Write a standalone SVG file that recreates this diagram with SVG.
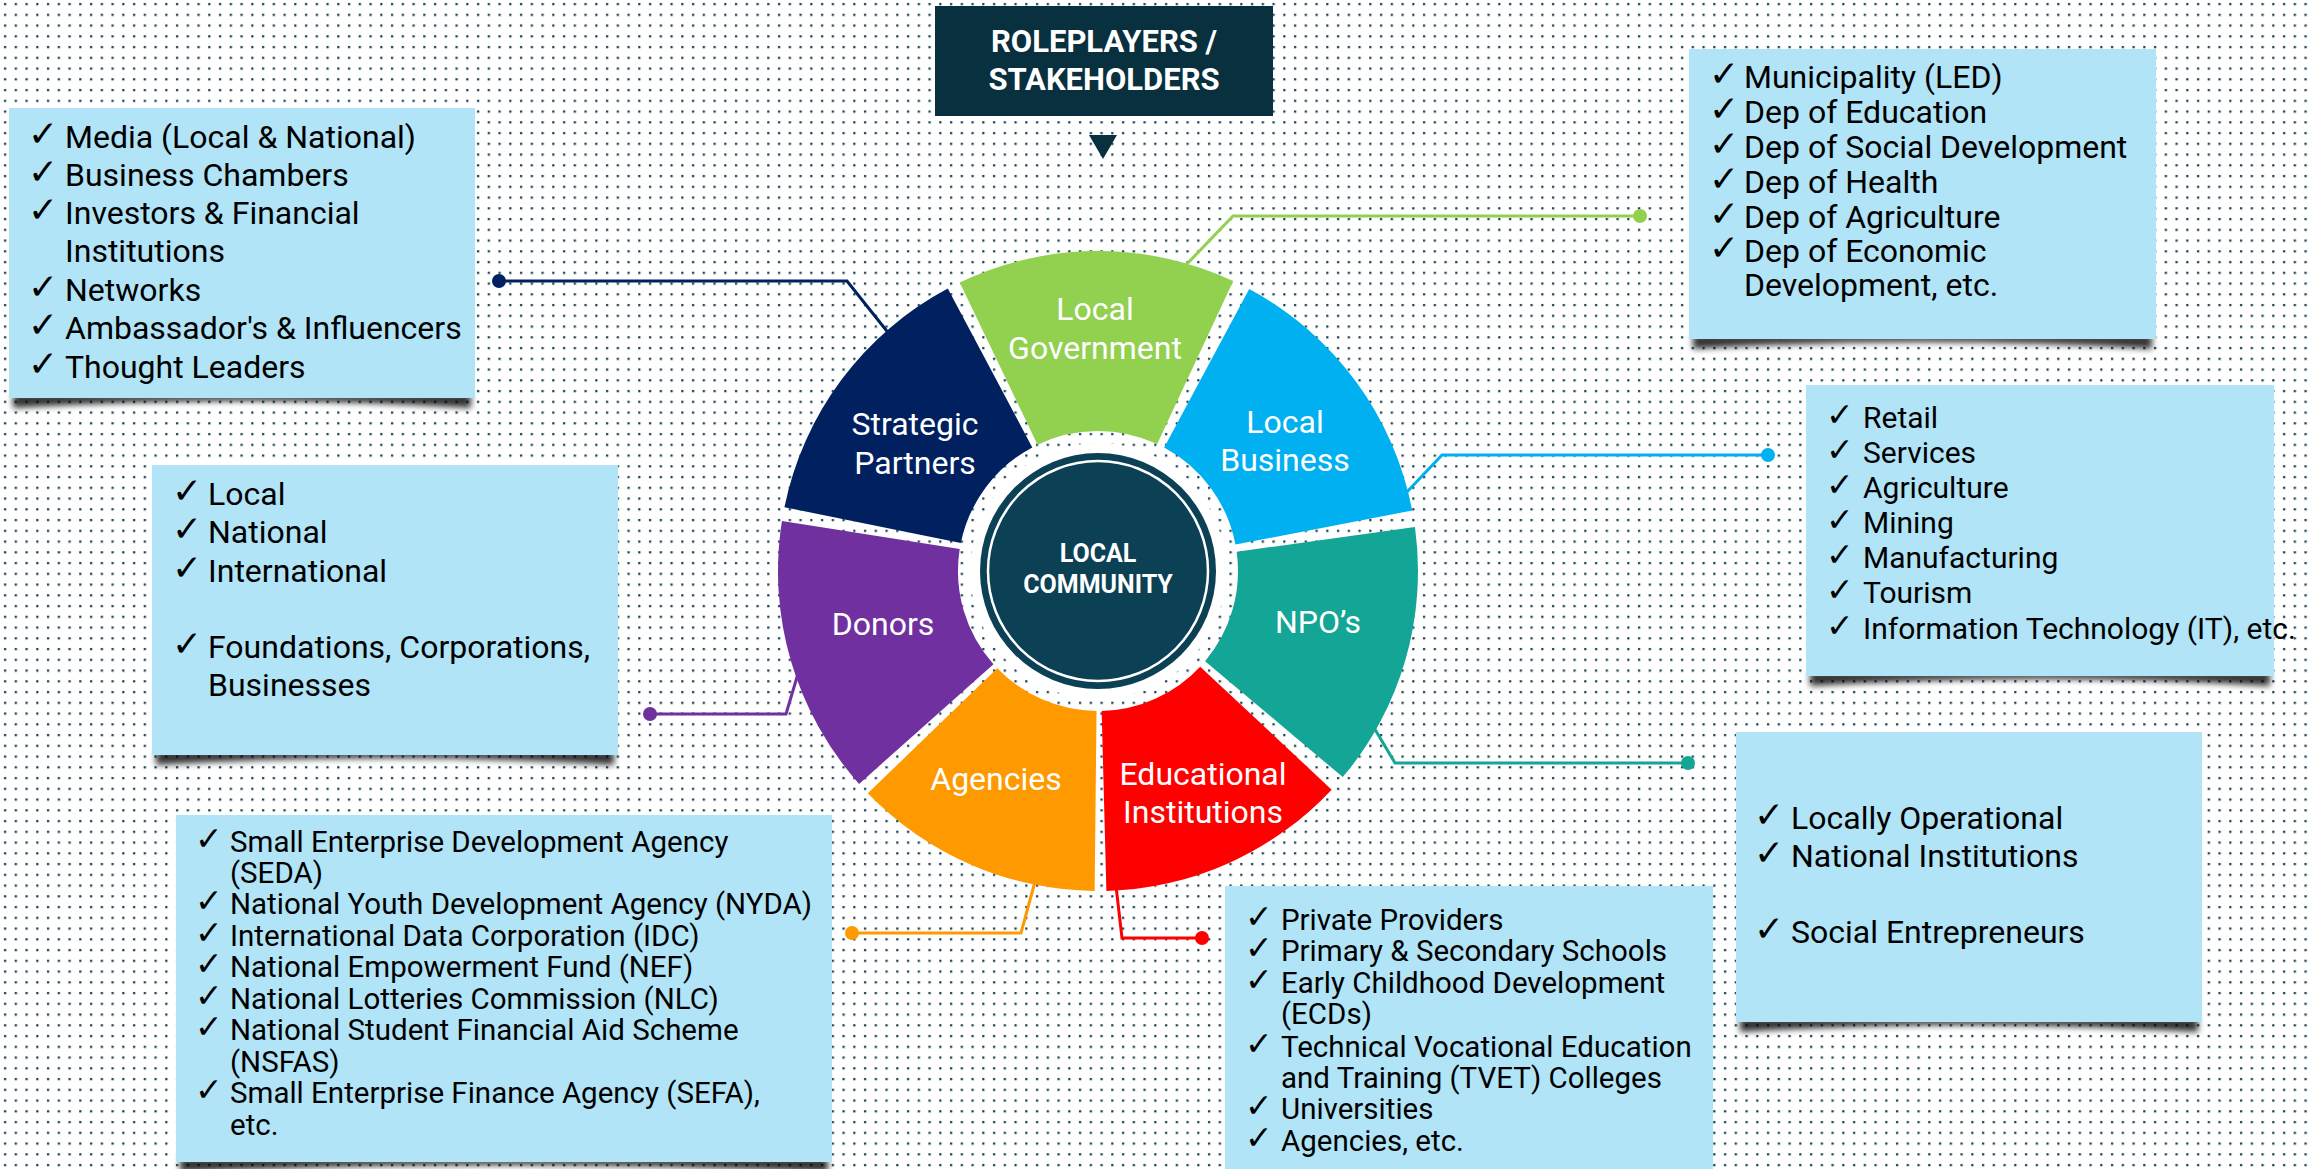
<svg xmlns="http://www.w3.org/2000/svg" width="2310" height="1169" viewBox="0 0 2310 1169">
<defs>
  <pattern id="dots" width="10.75" height="10.75" patternUnits="userSpaceOnUse">
    <rect x="4" y="3" width="2.2" height="2.2" fill="#0c3a4b"/>
  </pattern>
  <filter id="sh" x="-5%" y="-200%" width="110%" height="500%">
    <feGaussianBlur stdDeviation="3"/>
  </filter>
  <style>
    .chk{font-family:"DejaVu Sans",sans-serif;font-weight:bold;fill:#000}
    .t{font-family:Roboto,"Liberation Sans",sans-serif;fill:#000}
    .f32{font-size:32px}
    .f30{font-size:30px}
    .f29{font-size:29.5px}
    .box{fill:#B1E4F7}
    .shadow{fill:#000;opacity:.8;filter:url(#sh)}
    .lbl{font-family:Roboto,"Liberation Sans",sans-serif;font-size:32px;fill:#fff;text-anchor:middle}
    .conn{fill:none;stroke-width:3}
  </style>
</defs>

<rect width="2310" height="1169" fill="#fff"/>
<rect width="2310" height="1169" fill="url(#dots)"/>

<g id="connectors">
  <polyline class="conn" stroke="#002060" points="499,281 847,281 890,335"/>
  <circle cx="499" cy="281" r="7" fill="#002060"/>
  <polyline class="conn" stroke="#92D050" points="1185,266 1233,216 1640,216"/>
  <circle cx="1640" cy="216" r="7" fill="#92D050"/>
  <polyline class="conn" stroke="#00B0F0" points="1405,494 1442,455 1768,455"/>
  <circle cx="1768" cy="455" r="7" fill="#00B0F0"/>
  <polyline class="conn" stroke="#13A595" points="1373,726 1395,763 1688,763"/>
  <circle cx="1688" cy="763" r="7" fill="#13A595"/>
  <polyline class="conn" stroke="#FF0000" points="1116,886 1122,938 1202,938"/>
  <circle cx="1202" cy="938" r="7" fill="#FF0000"/>
  <polyline class="conn" stroke="#FF9900" points="1036,878 1021,933 852,933"/>
  <circle cx="852" cy="933" r="7" fill="#FF9900"/>
  <polyline class="conn" stroke="#7030A0" points="800,667 786,714 650,714"/>
  <circle cx="650" cy="714" r="7" fill="#7030A0"/>
</g>

<g id="title">
  <rect x="935" y="6" width="338" height="110" fill="#08303F"/>
  <text x="1104" y="52" text-anchor="middle" font-family="Roboto,'Liberation Sans',sans-serif" font-weight="bold" font-size="31" fill="#fff">ROLEPLAYERS /</text>
  <text x="1104" y="90" text-anchor="middle" font-family="Roboto,'Liberation Sans',sans-serif" font-weight="bold" font-size="31" fill="#fff">STAKEHOLDERS</text>
  <polygon points="1089,135 1117,135 1103,159" fill="#08303F"/>
</g>

<g id="seg-local-government">
  <path d="M959.73,282.41 A320,320 0 0 1 1233.24,280.98 L1157.17,444.12 A140,140 0 0 0 1037.51,444.74 Z" fill="#92D050"/>
  <text class="lbl" x="1095" y="320">Local</text>
  <text class="lbl" x="1095" y="359">Government</text>
</g>
<g id="seg-local-business">
  <path d="M1249.22,288.98 A320,320 0 0 1 1412.23,510.49 L1235.47,544.53 A140,140 0 0 0 1164.16,447.62 Z" fill="#00B0F0"/>
  <text class="lbl" x="1285" y="433">Local</text>
  <text class="lbl" x="1285" y="471">Business</text>
</g>
<g id="seg-npos">
  <path d="M1414.96,527.02 A320,320 0 0 1 1342.77,777.12 L1205.09,661.18 A140,140 0 0 0 1236.67,551.76 Z" fill="#13A595"/>
  <text class="lbl" x="1318" y="633">NPO’s</text>
</g>
<g id="seg-educational">
  <path d="M1331.65,789.65 A320,320 0 0 1 1106.38,890.89 L1101.66,710.95 A140,140 0 0 0 1200.22,666.66 Z" fill="#FF0000"/>
  <text class="lbl" x="1203" y="785">Educational</text>
  <text class="lbl" x="1203" y="823">Institutions</text>
</g>
<g id="seg-agencies">
  <path d="M1094.65,890.98 A320,320 0 0 1 867.81,793.29 L997.29,668.25 A140,140 0 0 0 1096.53,710.99 Z" fill="#FF9900"/>
  <text class="lbl" x="996" y="790">Agencies</text>
</g>
<g id="seg-donors">
  <path d="M859.08,783.88 A320,320 0 0 1 781.94,520.94 L959.72,549.10 A140,140 0 0 0 993.47,664.13 Z" fill="#7030A0"/>
  <text class="lbl" x="883" y="635">Donors</text>
</g>
<g id="seg-strategic-partners">
  <path d="M784.43,507.20 A320,320 0 0 1 947.77,288.46 L1032.27,447.39 A140,140 0 0 0 960.81,543.09 Z" fill="#002060"/>
  <text class="lbl" x="915" y="435">Strategic</text>
  <text class="lbl" x="915" y="474">Partners</text>
</g>

<g id="center">
  <circle cx="1098" cy="571" r="128" fill="#fff"/>
  <circle cx="1098" cy="571" r="118" fill="#0B4055"/>
  <circle cx="1098" cy="571" r="110" fill="none" stroke="#fff" stroke-width="2.5"/>
  <text x="1098" y="562" text-anchor="middle" font-family="Roboto,'Liberation Sans',sans-serif" font-weight="bold" font-size="25" fill="#fff">LOCAL</text>
  <text x="1098" y="593" text-anchor="middle" font-family="Roboto,'Liberation Sans',sans-serif" font-weight="bold" font-size="25" fill="#fff">COMMUNITY</text>
</g>

<g id="box-strategic-partners">
  <path class="shadow" d="M13,394 L471,394 L471,408 Q242,394 13,408 Z"/>
  <rect class="box" x="9" y="108" width="466" height="290"/>
  <g class="chk" font-size="36">
    <text x="28" y="146">✓</text><text x="28" y="184">✓</text><text x="28" y="222">✓</text>
    <text x="28" y="299">✓</text><text x="28" y="337">✓</text><text x="28" y="376">✓</text>
  </g>
  <g class="t f32">
    <text x="65" y="148">Media (Local &amp; National)</text>
    <text x="65" y="186">Business Chambers</text>
    <text x="65" y="224">Investors &amp; Financial</text>
    <text x="65" y="262">Institutions</text>
    <text x="65" y="301">Networks</text>
    <text x="65" y="339">Ambassador's &amp; Influencers</text>
    <text x="65" y="378">Thought Leaders</text>
  </g>
</g>

<g id="box-local-government">
  <path class="shadow" d="M1693,335 L2152,335 L2152,349 Q1922,335 1693,349 Z"/>
  <rect class="box" x="1689" y="49" width="467" height="290"/>
  <g class="chk" font-size="36">
    <text x="1709" y="86">✓</text><text x="1709" y="121">✓</text><text x="1709" y="156">✓</text>
    <text x="1709" y="191">✓</text><text x="1709" y="226">✓</text><text x="1709" y="260">✓</text>
  </g>
  <g class="t f32">
    <text x="1744" y="88">Municipality (LED)</text>
    <text x="1744" y="123">Dep of Education</text>
    <text x="1744" y="158">Dep of Social Development</text>
    <text x="1744" y="193">Dep of Health</text>
    <text x="1744" y="228">Dep of Agriculture</text>
    <text x="1744" y="262">Dep of Economic</text>
    <text x="1744" y="296">Development, etc.</text>
  </g>
</g>

<g id="box-local-business">
  <path class="shadow" d="M1810,672 L2270,672 L2270,686 Q2040,672 1810,686 Z"/>
  <rect class="box" x="1806" y="385" width="468" height="291"/>
  <g class="chk" font-size="33">
    <text x="1826" y="426">✓</text><text x="1826" y="461">✓</text><text x="1826" y="496">✓</text>
    <text x="1826" y="531">✓</text><text x="1826" y="566">✓</text><text x="1826" y="601">✓</text>
    <text x="1826" y="637">✓</text>
  </g>
  <g class="t f30">
    <text x="1863" y="428">Retail</text>
    <text x="1863" y="463">Services</text>
    <text x="1863" y="498">Agriculture</text>
    <text x="1863" y="533">Mining</text>
    <text x="1863" y="568">Manufacturing</text>
    <text x="1863" y="603">Tourism</text>
    <text x="1863" y="639">Information Technology (IT), etc.</text>
  </g>
</g>

<g id="box-donors">
  <path class="shadow" d="M156,751 L614,751 L614,765 Q385,751 156,765 Z"/>
  <rect class="box" x="152" y="465" width="466" height="290"/>
  <g class="chk" font-size="36">
    <text x="172" y="503">✓</text><text x="172" y="541">✓</text><text x="172" y="580">✓</text>
    <text x="172" y="656">✓</text>
  </g>
  <g class="t f32">
    <text x="208" y="505">Local</text>
    <text x="208" y="543">National</text>
    <text x="208" y="582">International</text>
    <text x="208" y="658">Foundations, Corporations,</text>
    <text x="208" y="696">Businesses</text>
  </g>
</g>

<g id="box-npos">
  <path class="shadow" d="M1740,1018 L2198,1018 L2198,1032 Q1969,1018 1740,1032 Z"/>
  <rect class="box" x="1736" y="732" width="466" height="290"/>
  <g class="chk" font-size="36">
    <text x="1754" y="827">✓</text><text x="1754" y="865">✓</text><text x="1754" y="941">✓</text>
  </g>
  <g class="t f32">
    <text x="1791" y="829">Locally Operational</text>
    <text x="1791" y="867">National Institutions</text>
    <text x="1791" y="943">Social Entrepreneurs</text>
  </g>
</g>

<g id="box-agencies">
  <path class="shadow" d="M180,1158 L828,1158 L828,1172 Q504,1158 180,1172 Z"/>
  <rect class="box" x="176" y="815" width="656" height="347"/>
  <g class="chk" font-size="33">
    <text x="195" y="850">✓</text><text x="195" y="912">✓</text><text x="195" y="944">✓</text>
    <text x="195" y="975">✓</text><text x="195" y="1007">✓</text><text x="195" y="1038">✓</text>
    <text x="195" y="1101">✓</text>
  </g>
  <g class="t f29">
    <text x="230" y="852">Small Enterprise Development Agency</text>
    <text x="230" y="883">(SEDA)</text>
    <text x="230" y="914">National Youth Development Agency (NYDA)</text>
    <text x="230" y="946">International Data Corporation (IDC)</text>
    <text x="230" y="977">National Empowerment Fund (NEF)</text>
    <text x="230" y="1009">National Lotteries Commission (NLC)</text>
    <text x="230" y="1040">National Student Financial Aid Scheme</text>
    <text x="230" y="1072">(NSFAS)</text>
    <text x="230" y="1103">Small Enterprise Finance Agency (SEFA),</text>
    <text x="230" y="1135">etc.</text>
  </g>
</g>

<g id="box-educational">
  <rect class="box" x="1225" y="886" width="488" height="300"/>
  <g class="chk" font-size="33">
    <text x="1245" y="928">✓</text><text x="1245" y="959">✓</text><text x="1245" y="991">✓</text>
    <text x="1245" y="1055">✓</text><text x="1245" y="1117">✓</text><text x="1245" y="1149">✓</text>
  </g>
  <g class="t f29">
    <text x="1281" y="930">Private Providers</text>
    <text x="1281" y="961">Primary &amp; Secondary Schools</text>
    <text x="1281" y="993">Early Childhood Development</text>
    <text x="1281" y="1024">(ECDs)</text>
    <text x="1281" y="1057">Technical Vocational Education</text>
    <text x="1281" y="1088">and Training (TVET) Colleges</text>
    <text x="1281" y="1119">Universities</text>
    <text x="1281" y="1151">Agencies, etc.</text>
  </g>
</g>
</svg>
